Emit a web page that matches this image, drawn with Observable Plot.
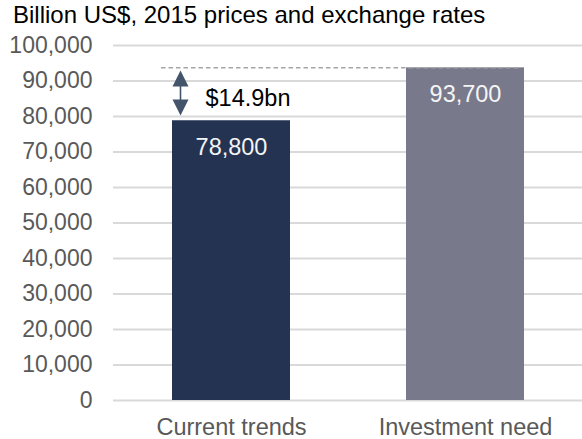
<!DOCTYPE html>
<html><head><meta charset="utf-8">
<script src="https://cdn.jsdelivr.net/npm/d3@7"></script>
<script src="https://cdn.jsdelivr.net/npm/@observablehq/plot@0.6"></script>
<style>
body{margin:0;background:#fff;font-family:"Liberation Sans",Arial,sans-serif}
#title{font-size:24px;height:30px;line-height:29px;padding-left:13px;color:#000;white-space:nowrap;overflow:visible}
</style></head><body>
<div id="title">Billion US$, 2015 prices and exchange rates</div>
<div id="chart"></div>
<script>
const categories = ["Current trends", "Investment need"];
const values = [78800, 93700];
const barColors = ["#233351", "#79798c"];
const valueLabels = ["78,800", "93,700"];
const gapLabel = "$14.9bn";
const yTicks = [0, 10000, 20000, 30000, 40000, 50000, 60000, 70000, 80000, 90000, 100000];

const data = categories.map((c, i) => ({category: c, value: values[i], color: barColors[i], label: valueLabels[i]}));

const upTri = {draw(ctx) { ctx.moveTo(0, -8); ctx.lineTo(8, 8); ctx.lineTo(-8, 8); ctx.closePath(); }};
const downTri = {draw(ctx) { ctx.moveTo(0, 8); ctx.lineTo(8, -8); ctx.lineTo(-8, -8); ctx.closePath(); }};
const arrowColor = "#44546a";

const chart = Plot.plot({
  width: 582,
  height: 409,
  marginTop: 15,
  marginBottom: 39,
  marginLeft: 113,
  marginRight: 0,
  style: {fontFamily: "Liberation Sans, Arial, sans-serif", fontSize: "23.5px", background: "#fff"},
  x: {domain: categories, paddingInner: 0.497, paddingOuter: 0.2485, label: null},
  y: {domain: [0, 100000], label: null},
  marks: [
    Plot.ruleY(yTicks, {stroke: "#d9d9d9", strokeWidth: 1.8}),
    Plot.barY(data, {x: "category", y: "value", fill: "color"}),
    Plot.text(data, {x: "category", y: "value", text: "label", fill: "#f4f4f4", fontSize: 23.5, dy: 27}),
    Plot.ruleY([values[1]], {x1: () => categories[0], x2: () => categories[1], stroke: "#a6a6a6", strokeWidth: 1.5, strokeDasharray: "4.5,3", insetLeft: -11, insetRight: 6}),
    Plot.ruleX([0], {x: () => categories[0], y1: () => values[1], y2: () => values[0], dx: -51, stroke: arrowColor, strokeWidth: 1.6, insetTop: 8, insetBottom: 8}),
    Plot.dot([values[1]], {x: () => categories[0], y: d => d, symbol: upTri, r: 8, fill: arrowColor, stroke: "none", dx: -51, dy: 10.6}),
    Plot.dot([values[0]], {x: () => categories[0], y: d => d, symbol: downTri, r: 8, fill: arrowColor, stroke: "none", dx: -51, dy: -13.3}),
    Plot.text([gapLabel], {x: () => categories[0], y: () => (values[0] + values[1]) / 2, text: d => d, textAnchor: "start", dx: -26, dy: 4, fill: "#000", fontSize: 23.5}),
    Plot.axisY({ticks: yTicks, tickFormat: d3.format(","), tickSize: 0, tickPadding: 21, fontSize: 23, fill: "#595959", label: null}),
    Plot.axisX({tickSize: 0, tickPadding: 18, fontSize: 23.5, fill: "#595959", label: null})
  ]
});
document.getElementById("chart").appendChild(chart);
</script>
</body></html>
